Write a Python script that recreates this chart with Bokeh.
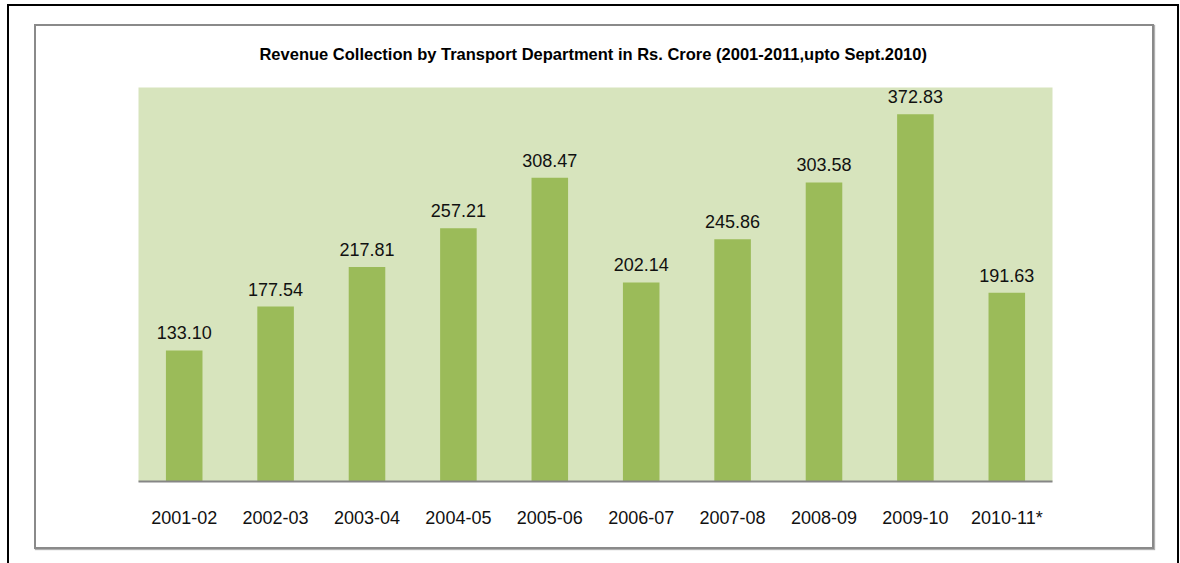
from bokeh.plotting import figure
from bokeh.models import ColumnDataSource, LabelSet, Range1d, InlineStyleSheet
from bokeh.core.properties import value
from bokeh.embed import file_html
from bokeh.resources import INLINE

years = ["2001-02", "2002-03", "2003-04", "2004-05", "2005-06",
         "2006-07", "2007-08", "2008-09", "2009-10", "2010-11*"]
revenue = [133.10, 177.54, 217.81, 257.21, 308.47,
           202.14, 245.86, 303.58, 372.83, 191.63]
labels = ["%.2f" % v for v in revenue]
title_text = "Revenue Collection by Transport  Department in Rs. Crore (2001-2011,upto Sept.2010)"

src = ColumnDataSource(dict(x=years, top=revenue, lab=labels))

W, H = 1180, 563
p = figure(x_range=years, y_range=Range1d(0, 400), width=W, height=H,
           output_backend="svg", toolbar_location=None,
           min_border_left=138, min_border_right=128,
           min_border_top=87, min_border_bottom=82,
           title=title_text)
p.background_fill_color = "#D7E4BD"
p.border_fill_color = "white"
p.outline_line_color = None
p.xgrid.visible = False
p.ygrid.visible = False
p.yaxis.visible = False

p.title.align = "center"
p.title.text_font = "Liberation Sans Narrow, Liberation Sans"
p.title.text_font_style = "bold"
p.title.text_font_size = "16.5px"
p.title.text_color = "black"
p.title.standoff = 50

p.vbar(x="x", top="top", width=0.4, source=src,
       fill_color="#9BBB59", line_color=None)

p.add_layout(LabelSet(x="x", y="top", text="lab", source=src,
                      text_align="center", text_baseline="alphabetic",
                      y_offset=11, text_font=value("Liberation Sans"),
                      text_font_size="18px", text_color="#111111"))

ax = p.xaxis[0]
ax.axis_line_color = "#868686"
ax.axis_line_width = 2
ax.major_tick_line_color = None
ax.minor_tick_line_color = None
ax.major_label_text_font = "Liberation Sans"
ax.major_label_text_font_size = "18px"
ax.major_label_text_color = "#111111"
ax.major_label_standoff = 20

css = """
:host { position: relative; }
:host::before {
  content: ""; position: absolute; left: 34px; top: 24px;
  width: 1116px; height: 521px; border: 2px solid #8a8a8a;
  box-shadow: 1px 1px 1px #b0b0b0;
  pointer-events: none; z-index: 20;
}
:host::after {
  content: ""; position: absolute; left: 7px; top: 4px;
  width: 1168px; height: 600px; border: 2px solid #000;
  border-bottom: none;
  pointer-events: none; z-index: 21;
}
"""
p.stylesheets = [InlineStyleSheet(css=css)]

open("out.html", "w").write(file_html(p, INLINE))
